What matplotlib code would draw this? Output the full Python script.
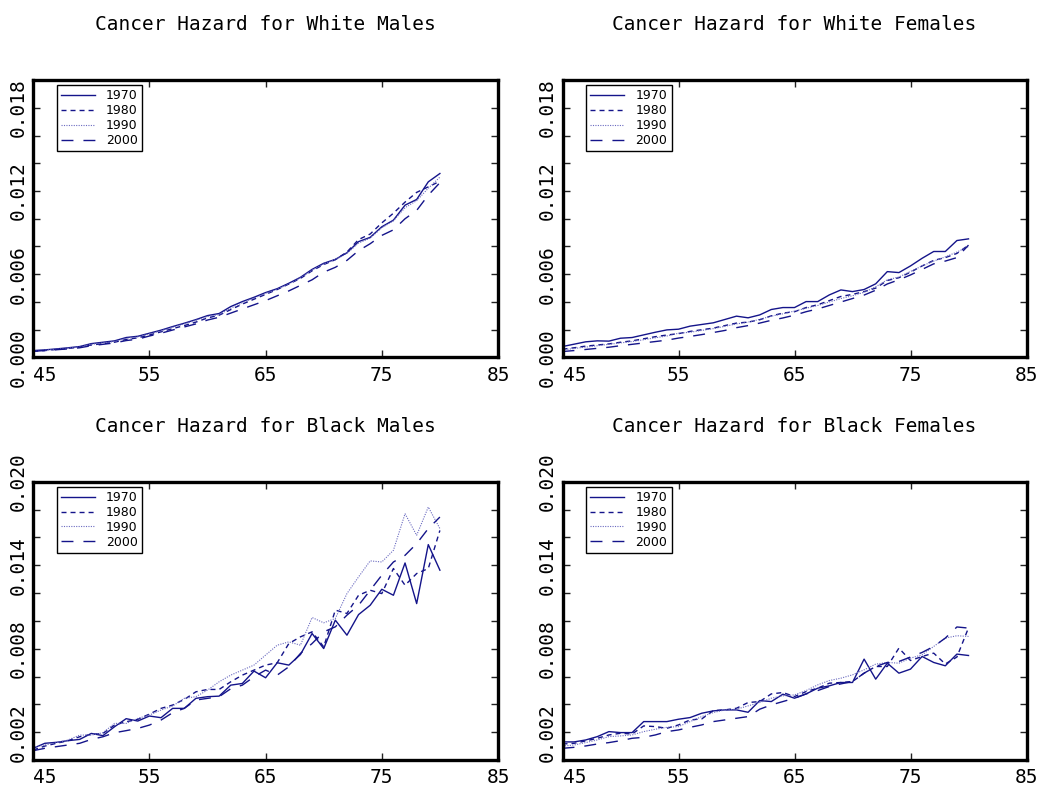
import matplotlib
matplotlib.use("Agg")
import matplotlib.pyplot as plt
import numpy as np

# ages 45..80, hazard values in units of 0.001
ages = np.arange(45, 81)
years = ["1970", "1980", "1990", "2000"]

white_males = {
    "1970": [0.50, 0.55, 0.62, 0.70, 0.79, 1.00, 1.10, 1.20, 1.44, 1.53, 1.75, 1.97,
             2.23, 2.47, 2.73, 3.02, 3.17, 3.67, 4.03, 4.34, 4.68, 4.96, 5.35, 5.78,
             6.35, 6.79, 7.07, 7.55, 8.35, 8.66, 9.42, 9.90, 10.98, 11.39, 12.66, 13.26],
    "1980": [0.45, 0.50, 0.58, 0.65, 0.75, 0.90, 1.00, 1.10, 1.30, 1.42, 1.62, 1.85,
             2.08, 2.30, 2.55, 2.85, 3.05, 3.45, 3.85, 4.20, 4.55, 4.90, 5.30, 5.70,
             6.25, 6.70, 7.05, 7.60, 8.50, 8.90, 9.70, 10.40, 11.20, 11.90, 12.30, 12.70],
    "1990": [0.48, 0.53, 0.60, 0.68, 0.76, 0.95, 1.05, 1.15, 1.38, 1.48, 1.70, 1.92,
             2.18, 2.42, 2.68, 2.95, 3.10, 3.55, 3.95, 4.28, 4.62, 4.92, 5.30, 5.75,
             6.30, 6.75, 7.05, 7.50, 8.25, 8.60, 9.35, 9.85, 10.80, 11.30, 12.20, 13.00],
    "2000": [0.45, 0.50, 0.56, 0.62, 0.70, 0.85, 0.95, 1.05, 1.22, 1.32, 1.55, 1.75,
             1.98, 2.20, 2.42, 2.70, 2.90, 3.20, 3.50, 3.80, 4.10, 4.45, 4.80, 5.20,
             5.60, 6.15, 6.50, 7.00, 7.70, 8.20, 8.80, 9.20, 10.00, 10.60, 11.70, 12.60],
}

white_females = {
    "1970": [0.79, 0.96, 1.13, 1.20, 1.18, 1.39, 1.44, 1.63, 1.82, 1.99, 2.04, 2.26,
             2.38, 2.50, 2.74, 2.98, 2.86, 3.07, 3.46, 3.60, 3.60, 4.03, 4.03, 4.51,
             4.87, 4.75, 4.90, 5.31, 6.19, 6.12, 6.60, 7.15, 7.64, 7.64, 8.43, 8.55],
    "1980": [0.60, 0.70, 0.82, 0.90, 0.98, 1.10, 1.20, 1.35, 1.50, 1.62, 1.72, 1.88,
             2.00, 2.12, 2.30, 2.48, 2.55, 2.72, 3.00, 3.20, 3.30, 3.60, 3.80, 4.10,
             4.40, 4.55, 4.75, 5.00, 5.55, 5.75, 6.15, 6.60, 7.00, 7.20, 7.50, 8.10],
    "1990": [0.55, 0.65, 0.75, 0.85, 0.95, 1.05, 1.15, 1.28, 1.42, 1.55, 1.75, 1.82,
             1.95, 2.08, 2.25, 2.42, 2.55, 2.75, 2.98, 3.15, 3.35, 3.55, 3.75, 4.00,
             4.25, 4.45, 4.70, 5.10, 5.60, 5.80, 6.20, 6.60, 6.95, 7.25, 7.60, 8.00],
    "2000": [0.43, 0.50, 0.58, 0.66, 0.74, 0.85, 0.95, 1.05, 1.15, 1.25, 1.40, 1.52,
             1.65, 1.80, 1.95, 2.15, 2.30, 2.48, 2.68, 2.85, 3.05, 3.30, 3.50, 3.75,
             4.00, 4.25, 4.50, 4.85, 5.30, 5.60, 5.95, 6.35, 6.75, 6.95, 7.20, 8.10],
}

black_males = {
    "1970": [0.84, 1.20, 1.27, 1.39, 1.48, 1.91, 1.75, 2.39, 2.97, 2.80, 3.16, 3.04,
             3.71, 3.71, 4.43, 4.55, 4.59, 5.38, 5.50, 6.39, 5.91, 6.99, 6.82, 7.58,
             9.09, 8.01, 10.05, 8.97, 10.45, 11.12, 12.27, 11.84, 14.16, 11.24, 15.48, 13.64],
    "1980": [0.72, 1.00, 1.20, 1.39, 1.67, 1.84, 1.91, 2.51, 2.75, 2.92, 3.30, 3.71,
             3.95, 4.35, 4.90, 5.07, 5.07, 5.62, 6.10, 6.46, 6.82, 6.99, 8.37, 8.85,
             9.21, 8.13, 10.77, 10.53, 11.84, 12.20, 11.96, 13.76, 12.56, 13.40, 13.76, 16.50],
    "1990": [0.91, 1.08, 1.24, 1.44, 1.79, 1.79, 1.96, 2.63, 2.63, 2.99, 3.23, 3.59,
             3.88, 4.43, 4.55, 5.02, 5.62, 6.10, 6.46, 6.82, 7.54, 8.25, 8.49, 8.25,
             10.24, 9.86, 10.17, 11.96, 13.16, 14.31, 14.23, 15.07, 17.70, 16.15, 18.18, 16.63],
    "2000": [0.67, 0.84, 0.96, 1.08, 1.20, 1.48, 1.67, 1.96, 2.11, 2.27, 2.51, 2.87,
             3.40, 3.71, 4.31, 4.43, 4.55, 5.12, 5.38, 5.98, 6.46, 6.10, 6.70, 7.66,
             8.37, 9.21, 9.57, 10.41, 11.12, 12.20, 13.28, 14.23, 14.71, 15.55, 16.63, 17.46],
}

black_females = {
    "1970": [1.30, 1.30, 1.44, 1.68, 2.04, 1.97, 1.97, 2.76, 2.76, 2.76, 2.93, 3.05,
             3.36, 3.53, 3.60, 3.60, 3.43, 4.27, 4.20, 4.73, 4.44, 4.75, 5.16, 5.33,
             5.57, 5.57, 7.25, 5.81, 6.96, 6.24, 6.53, 7.44, 7.01, 6.77, 7.61, 7.51],
    "1980": [1.15, 1.20, 1.37, 1.56, 1.80, 1.92, 1.87, 2.45, 2.40, 2.28, 2.52, 2.88,
             2.95, 3.55, 3.60, 3.72, 4.13, 4.20, 4.75, 4.85, 4.56, 4.92, 5.16, 5.52,
             5.57, 5.64, 6.24, 6.72, 6.72, 8.04, 7.15, 7.44, 7.68, 6.90, 7.40, 9.50],
    "1990": [1.00, 1.08, 1.25, 1.44, 1.68, 1.73, 1.80, 2.04, 2.21, 2.35, 2.40, 2.76,
             3.12, 3.41, 3.60, 3.65, 3.89, 4.13, 4.44, 4.61, 4.68, 4.99, 5.40, 5.71,
             5.88, 6.12, 6.48, 6.89, 7.01, 6.96, 7.32, 7.56, 8.16, 8.76, 8.93, 8.88],
    "2000": [0.84, 0.91, 1.01, 1.15, 1.25, 1.39, 1.56, 1.63, 1.80, 2.04, 2.16, 2.35,
             2.52, 2.76, 2.88, 3.00, 3.12, 3.65, 3.96, 4.20, 4.44, 4.75, 4.99, 5.28,
             5.47, 5.64, 6.24, 6.72, 7.01, 7.08, 7.40, 7.73, 8.16, 8.76, 9.56, 9.48],
}

panels = [
    ("Cancer Hazard for White Males", white_males, [0.000, 0.006, 0.012, 0.018]),
    ("Cancer Hazard for White Females", white_females, [0.000, 0.006, 0.012, 0.018]),
    ("Cancer Hazard for Black Males", black_males, [0.002, 0.008, 0.014, 0.020]),
    ("Cancer Hazard for Black Females", black_females, [0.002, 0.008, 0.014, 0.020]),
]

LINE = "#14148a"
styles = {
    "1970": dict(linestyle="-", linewidth=1.0),
    "1980": dict(linestyle=(0, (3.6, 2.9)), linewidth=1.0),
    "1990": dict(linestyle=(0, (1.0, 1.2)), linewidth=0.8, color="#6a6ac0"),
    "2000": dict(linestyle=(0, (8.6, 7.2)), linewidth=1.0),
}

W, H = 1042.0, 787.0
# axes boxes in pixels: left, top, right, bottom
boxes = [
    (33.2, 80.0, 498.0, 357.5),
    (562.5, 80.0, 1026.5, 357.5),
    (33.2, 481.7, 498.0, 760.0),
    (562.5, 481.7, 1026.5, 760.0),
]

MONO = "DejaVu Sans Mono"

fig = plt.figure(figsize=(W / 100, H / 100), dpi=100)

for (title, data, ylabels), (l, t, r, b) in zip(panels, boxes):
    ax = fig.add_axes([l / W, 1 - b / H, (r - l) / W, (b - t) / H])
    for yr in years:
        kw = dict(color=LINE)
        kw.update(styles[yr])
        ax.plot(ages, np.array(data[yr]) / 1000.0, label=yr, **kw)

    ax.set_xlim(45, 85)
    ax.set_ylim(0, 0.020)
    ax.set_xticks([45, 55, 65, 75, 85])
    ax.set_xticklabels(["45", "55", "65", "75", "85"], fontsize=14, family=MONO)
    ax.get_xticklabels()[0].set_horizontalalignment("left")

    yticks = np.round(np.arange(0, 0.0201, 0.002), 3)
    ax.set_yticks(yticks)
    ax.set_yticklabels(["%.3f" % v if any(abs(v - s) < 1e-9 for s in ylabels) else ""
                        for v in yticks],
                       fontsize=14, family=MONO, rotation=90, va="center")

    ax.tick_params(direction="in", length=5, width=1, top=True, right=True,
                   color="#222222")
    ax.tick_params(axis="x", pad=6)
    ax.tick_params(axis="y", pad=4)
    for sp in ax.spines.values():
        sp.set_linewidth(2.4)

    ax.set_title(title, family=MONO, fontsize=14, pad=36)

    leg = ax.legend(loc="upper left", bbox_to_anchor=(23.5 / (r - l), 1 - 5.0 / (b - t)),
                    fontsize=9, handlelength=2.7, handletextpad=0.9,
                    labelspacing=0.15, borderpad=0.35, fancybox=False,
                    framealpha=1, edgecolor="black", borderaxespad=0)
    leg.get_frame().set_linewidth(1.0)

fig.savefig("out.png", dpi=100)
